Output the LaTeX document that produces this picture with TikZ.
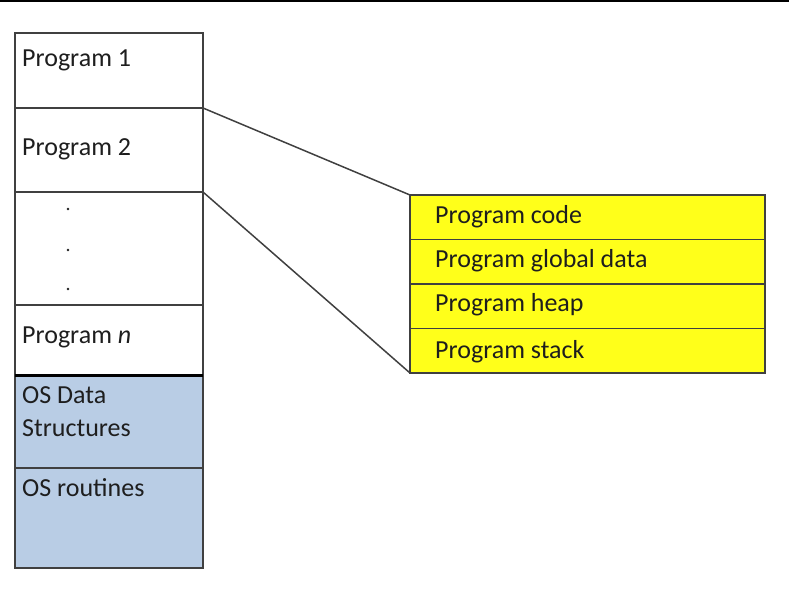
\documentclass[tikz,border=0pt]{standalone}
\usepackage{fontspec}
\setmainfont{Carlito}
\usetikzlibrary{positioning}
\definecolor{osblue}{HTML}{B9CDE5}
\definecolor{segyellow}{HTML}{FFFF1A}
\definecolor{edge}{HTML}{404040}
\definecolor{ink}{HTML}{1E1E1E}
\tikzset{
  cell/.style={draw=edge, line width=1.4pt, minimum width=188pt, outer sep=0pt, inner sep=0pt},
  seg/.style={cell, fill=segyellow, minimum width=355pt, minimum height=44.5pt},
  txt/.style={anchor=base west, inner sep=0pt, text=ink, font=\fontsize{26}{30}\selectfont},
}
\begin{document}
\begin{tikzpicture}[x=1pt,y=-1pt]
    \useasboundingbox (0,0) rectangle (789,605);
    \draw[line width=2pt] (0,1) -- (789,1);

    % memory column
    \node[cell, minimum height=75pt] (p1) at (109,70.5) {};
    \node[cell, minimum height=84pt, below=0pt of p1] (p2) {};
    \node[cell, minimum height=113pt, below=0pt of p2] (gap) {};
    \node[cell, minimum height=70pt, below=0pt of gap] (pn) {};
    \node[cell, fill=osblue, minimum height=93pt, below=0pt of pn] (osd) {};
    \node[cell, fill=osblue, minimum height=100pt, below=0pt of osd] (osr) {};
    \draw[line width=3pt] (pn.south west) -- (pn.south east);

    \node[txt] at (22,66.5) {Program 1};
    \node[txt] at (22,155) {Program 2};
    \fill[ink] (68,209) circle (1.3);
    \fill[ink] (68,250) circle (1.3);
    \fill[ink] (68,289) circle (1.3);
    \node[txt] at (22,343) {Program \emph{n}};
    \node[txt] at (22,403) {OS Data};
    \node[txt] at (22,436.5) {Structures};
    \node[txt] at (22,496.5) {OS routines};

    % program image
    \node[seg] (code) at (587.5,217.25) {};
    \node[seg, below=0pt of code] (glob) {};
    \node[seg, below=0pt of glob] (heap) {};
    \node[seg, below=0pt of heap] (stack) {};

    \node[txt] at (435,223.5) {Program code};
    \node[txt] at (435,267) {Program global data};
    \node[txt] at (435,311.5) {Program heap};
    \node[txt] at (435,358) {Program stack};

    \draw[edge, line width=1.5pt] (p2.north east) -- (code.north west);
    \draw[edge, line width=1.5pt] (p2.south east) -- (stack.south west);
\end{tikzpicture}
\end{document}
